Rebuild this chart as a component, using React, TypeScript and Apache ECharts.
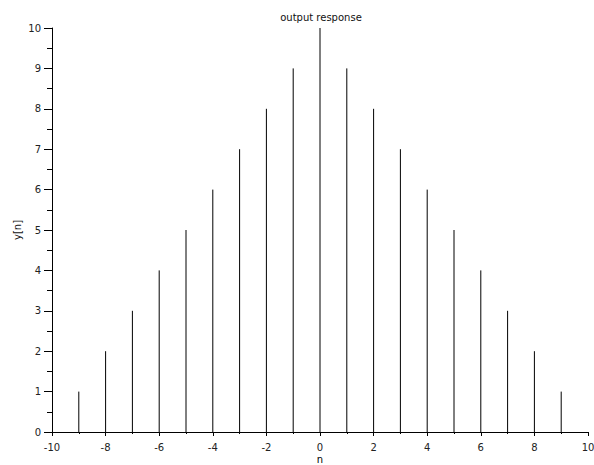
import React, { useEffect, useRef } from "react";
import * as echarts from "echarts";

const nValues = [-9, -8, -7, -6, -5, -4, -3, -2, -1, 0, 1, 2, 3, 4, 5, 6, 7, 8, 9];
const yValues = [1, 2, 3, 4, 5, 6, 7, 8, 9, 10, 9, 8, 7, 6, 5, 4, 3, 2, 1];
const titleText = "output response";
const xName = "n";
const yName = "y[n]";

const FONT = "DejaVu Sans";

export default function App() {
  const ref = useRef<HTMLDivElement>(null);
  useEffect(() => {
    document.body.style.margin = "0";
    if (!ref.current) return;
    const chart = echarts.init(ref.current, undefined, { renderer: "svg" });
    const data = nValues.map((n, i) => [n, yValues[i]]);
    chart.setOption({
      animation: false,
      backgroundColor: "#ffffff",
      textStyle: { fontFamily: FONT },
      title: {
        text: titleText,
        left: 316,
        top: 7,
        textAlign: "center",
        textStyle: { fontSize: 10, fontWeight: "normal", color: "#111", fontFamily: FONT },
      },
      grid: {
        left: 52,
        right: 6,
        top: 28,
        bottom: 33,
        containLabel: false,
        outerBoundsMode: "none",
      },
      xAxis: {
        type: "value",
        min: -10,
        max: 10,
        interval: 2,
        name: xName,
        nameLocation: "middle",
        nameGap: 22,
        nameMoveOverlap: false,
        nameTextStyle: { fontSize: 10, color: "#000", fontFamily: FONT },
        axisLine: { show: true, onZero: false, lineStyle: { color: "#000", width: 1 } },
        axisTick: { show: true, length: 4, lineStyle: { color: "#000" } },
        minorTick: { show: true, splitNumber: 2, length: 2, lineStyle: { color: "#000" } },
        splitLine: { show: false },
        minorSplitLine: { show: false },
        axisLabel: { fontSize: 10, color: "#222", margin: 10, fontFamily: FONT },
      },
      yAxis: {
        type: "value",
        min: 0,
        max: 10,
        interval: 1,
        name: yName,
        nameLocation: "middle",
        nameGap: 30,
        nameMoveOverlap: false,
        nameRotate: 90,
        nameTextStyle: { fontSize: 10, color: "#111", fontFamily: FONT },
        axisLine: { show: true, onZero: false, lineStyle: { color: "#000", width: 1 } },
        axisTick: { show: true, length: 8, lineStyle: { color: "#000" } },
        minorTick: { show: true, splitNumber: 2, length: 5, lineStyle: { color: "#000" } },
        splitLine: { show: false },
        minorSplitLine: { show: false },
        axisLabel: { fontSize: 10, color: "#222", margin: 11, fontFamily: FONT },
      },
      series: [
        {
          type: "custom",
          data,
          renderItem: (params: any, api: any) => {
            const x = api.value(0);
            const y = api.value(1);
            const p0 = api.coord([x, 0]);
            const p1 = api.coord([x, y]);
            return {
              type: "line",
              shape: { x1: p0[0], y1: p0[1], x2: p1[0], y2: p1[1] },
              style: { stroke: "#000", lineWidth: 1 },
            };
          },
        },
      ],
    });
    return () => chart.dispose();
  }, []);
  return <div ref={ref} style={{ width: 594, height: 465 }} />;
}
